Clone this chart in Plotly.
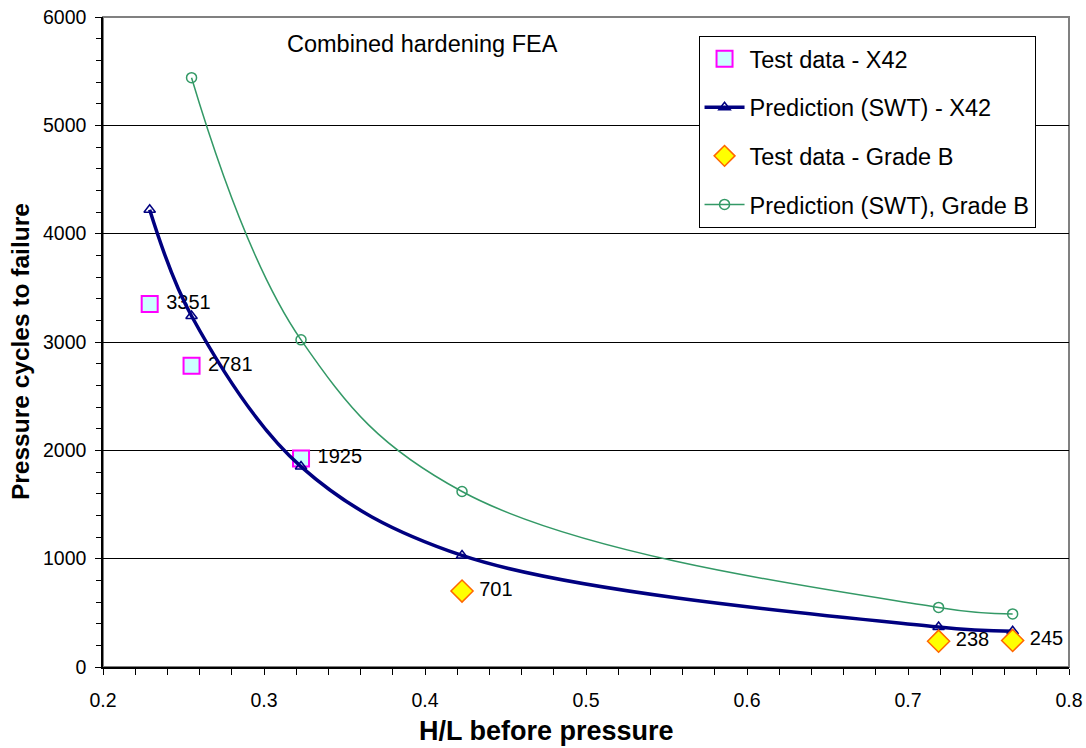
import plotly.graph_objects as go

# H/L ratios and fatigue lives
x42_test_hl = [0.229, 0.255, 0.323]
x42_test_cycles = [3351, 2781, 1925]

x42_pred_hl = [0.229, 0.255, 0.323, 0.423, 0.719, 0.765]
x42_pred_cycles = [4220, 3240, 1850, 1030, 370, 330]

gradeb_test_hl = [0.423, 0.719, 0.765]
gradeb_test_cycles = [701, 238, 245]

gradeb_pred_hl = [0.255, 0.323, 0.423, 0.719, 0.765]
gradeb_pred_cycles = [5440, 3020, 1620, 550, 490]

FONT = "Liberation Sans, Arial, sans-serif"

fig = go.Figure()

fig.add_trace(go.Scatter(
    x=x42_test_hl, y=x42_test_cycles, mode="markers+text",
    name="Test data - X42", legendgroup="a",
    text=[" " + str(v) for v in x42_test_cycles], textposition="middle right",
    textfont=dict(size=20, color="black", family=FONT),
    marker=dict(symbol="square", size=16, color="#CCFFFF",
                line=dict(color="#FF00FF", width=2)),
))
fig.add_trace(go.Scatter(
    x=x42_pred_hl, y=x42_pred_cycles, mode="lines+markers",
    name="Prediction (SWT) - X42", legendgroup="b",
    line=dict(color="#000080", width=3.5, shape="spline", smoothing=1.0),
    marker=dict(symbol="triangle-up-open", size=10, color="#000080",
                line=dict(color="#000080", width=1.5)),
))
fig.add_trace(go.Scatter(
    x=gradeb_test_hl, y=gradeb_test_cycles, mode="markers+text",
    name="Test data - Grade B", legendgroup="c",
    text=[" " + str(v) for v in gradeb_test_cycles], textposition="middle right",
    textfont=dict(size=20, color="black", family=FONT),
    marker=dict(symbol="diamond", size=17, color="#FFFF00",
                line=dict(color="#FF6600", width=1.5)),
))
fig.add_trace(go.Scatter(
    x=gradeb_pred_hl, y=gradeb_pred_cycles, mode="lines+markers",
    name="Prediction (SWT), Grade B", legendgroup="d",
    line=dict(color="#339966", width=1.5, shape="spline", smoothing=1.1),
    marker=dict(symbol="circle-open", size=10, color="#339966",
                line=dict(color="#339966", width=1.5)),
))

fig.add_annotation(
    x=0.313, y=5750, xref="x", yref="y", text="Combined hardening FEA",
    showarrow=False, xanchor="left", yanchor="middle",
    font=dict(size=23.5, color="black", family=FONT),
)

# axis titles
fig.add_annotation(
    x=0.4586, y=-0.0985, xref="paper", yref="paper",
    text="<b>H/L before pressure</b>", showarrow=False,
    xanchor="center", yanchor="middle",
    font=dict(size=27, color="black", family=FONT),
)
fig.add_annotation(
    x=-0.0859, y=0.4846, xref="paper", yref="paper",
    text="<b>Pressure cycles to failure</b>", showarrow=False, textangle=-90,
    xanchor="center", yanchor="middle",
    font=dict(size=24.5, color="black", family=FONT),
)

# grey frame around the plot area
fig.add_shape(type="rect", xref="paper", yref="paper", x0=0, y0=0, x1=1, y1=1,
              line=dict(color="#808080", width=2), layer="below")

fig.update_layout(
    width=1086, height=748,
    margin=dict(l=103, r=17, t=17, b=81, autoexpand=False),
    paper_bgcolor="white", plot_bgcolor="white",
    font=dict(family=FONT, size=19, color="black"),
    showlegend=True,
    legend=dict(
        x=0.6165, y=0.9708, xanchor="left", yanchor="top",
        bgcolor="white", bordercolor="black", borderwidth=1,
        font=dict(size=23.5, family=FONT, color="black"),
        traceorder="grouped", tracegroupgap=15, itemwidth=40,
    ),
    xaxis=dict(
        range=[0.2, 0.8], dtick=0.1, tick0=0.2, tickformat=".1f",
        showgrid=False, zeroline=False, automargin=False,
        showline=True, linecolor="black", linewidth=1.5,
        ticks="outside", ticklen=6, tickcolor="black", ticklabelstandoff=9,
        minor=dict(dtick=0.02, ticks="outside", ticklen=6, tickcolor="black", showgrid=False),
        tickfont=dict(size=19.5, family=FONT),
    ),
    yaxis=dict(
        range=[0, 6000], dtick=1000,
        showgrid=True, gridcolor="black", gridwidth=1, zeroline=False, automargin=False,
        showline=True, linecolor="black", linewidth=1.5,
        ticks="outside", ticklen=6, tickcolor="black", ticklabelstandoff=5,
        minor=dict(dtick=200, ticks="outside", ticklen=5, tickcolor="black", showgrid=False),
        tickfont=dict(size=19.5, family=FONT),
    ),
)

fig.write_html("out.html")
